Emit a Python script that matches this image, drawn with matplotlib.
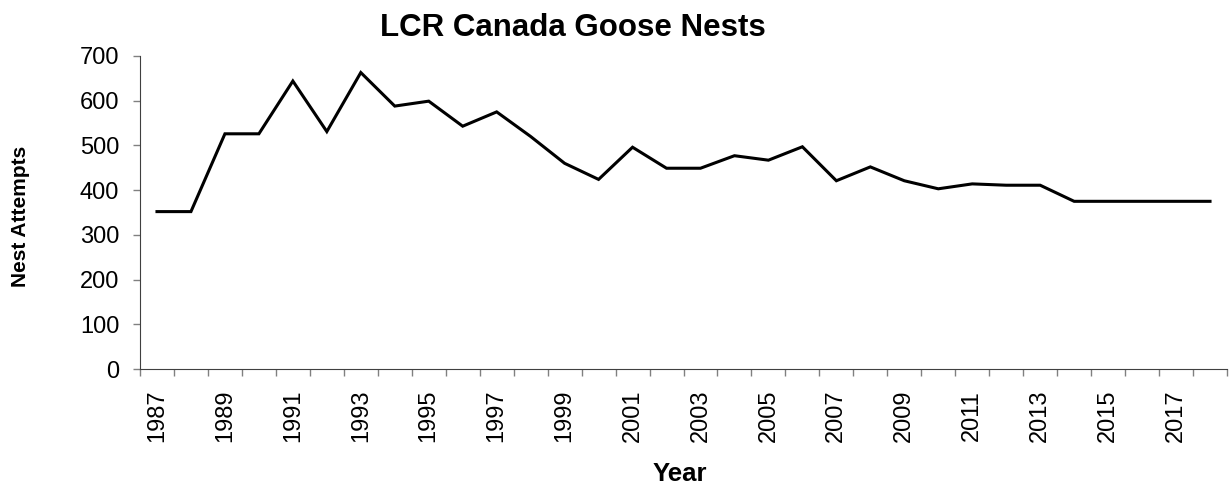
import matplotlib
matplotlib.use("Agg")
import matplotlib.pyplot as plt
import numpy as np

years = list(range(1987, 2019))
nests = [352, 352, 526, 526, 644, 531, 663, 588, 599, 543, 575, 520, 460, 424,
         496, 449, 449, 477, 467, 497, 421, 452, 421, 403, 414, 411, 411, 375,
         375, 375, 375, 375]
tick_labels = [str(y) if (y - 1987) % 2 == 0 else "" for y in years]

plt.rcParams['font.family'] = ['Liberation Sans', 'DejaVu Sans']

W, H = 1230, 487
fig = plt.figure(figsize=(W / 100, H / 100), dpi=100)
ax = fig.add_axes([140 / W, 1 - 369 / H, (1227 - 140) / W, (369 - 56) / H])

x = np.arange(len(years))
ax.plot(x, nests, color='black', lw=2.2, solid_joinstyle='miter')

ax.set_xlim(-0.5, len(years) - 0.5)
ax.set_ylim(0, 700)
ax.set_yticks(range(0, 701, 100))

ax.set_xticks(x)
ax.set_xticklabels(tick_labels, rotation=90, fontsize=17, va='top')
ax.tick_params(axis='x', which='major', length=0, pad=15)
ax.set_xticks(np.arange(-0.5, len(years), 1), minor=True)
ax.tick_params(axis='x', which='minor', length=5, width=1, color='#808080', direction='out')
ax.tick_params(axis='y', length=5, width=1, color='#808080', labelsize=17, pad=10)

for s in ['top', 'right']:
    ax.spines[s].set_visible(False)
ax.spines['left'].set_color('#404040')
ax.spines['bottom'].set_color('#404040')

fig.text(573 / W, 1 - 36 / H, 'LCR Canada Goose Nests', fontsize=22.5,
         fontweight='bold', ha='center', va='baseline')
fig.text(21 / W, 1 - 216 / H, 'Nest Attempts', fontsize=15, fontweight='bold',
         rotation=90, ha='center', va='center')
fig.text(679.5 / W, 1 - 481 / H, 'Year', fontsize=18.5, fontweight='bold',
         ha='center', va='baseline')

fig.savefig('out.png', dpi=100)
